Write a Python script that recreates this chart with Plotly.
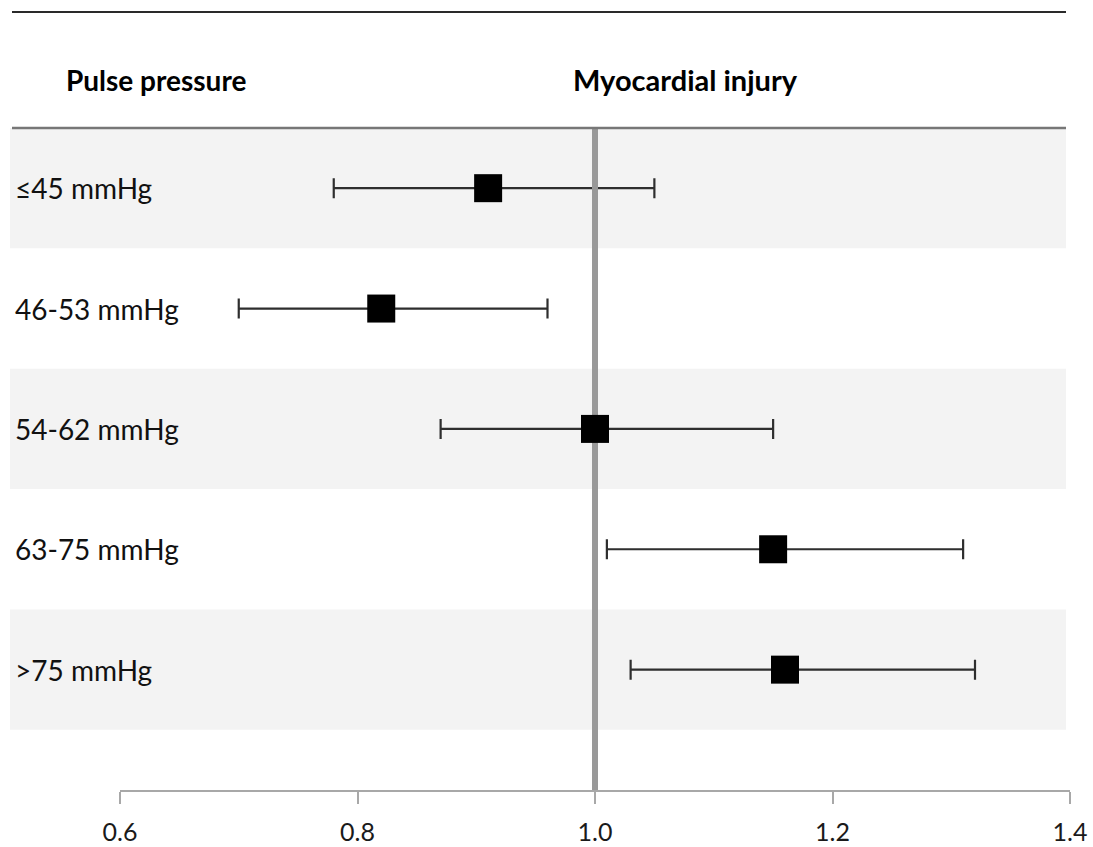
import plotly.graph_objects as go

categories = ["≤45 mmHg", "46-53 mmHg", "54-62 mmHg", "63-75 mmHg", ">75 mmHg"]
estimate = [0.91, 0.82, 1.00, 1.15, 1.16]
ci_low = [0.78, 0.70, 0.87, 1.01, 1.03]
ci_high = [1.05, 0.96, 1.15, 1.31, 1.32]
tick_vals = [0.6, 0.8, 1.0, 1.2, 1.4]
tick_text = ["0.6", "0.8", "1.0", "1.2", "1.4"]
ref_value = 1.0
header_left = "Pulse pressure"
header_right = "Myocardial injury"

W, H = 1093, 847
L, R, T, B = 120, 1070, 128, 790
PW, PH = R - L, B - T

def px_x(px):
    return (px - L) / PW

def px_y(py):
    return (B - py) / PH

rows = list(range(len(categories)))
y_range = [5.0, -0.5]

fig = go.Figure()

# error bars (drawn beneath the reference line)
fig.add_trace(go.Scatter(
    x=estimate, y=rows, mode="markers",
    marker=dict(size=1, color="rgba(0,0,0,0)"),
    error_x=dict(type="data", symmetric=False,
                 array=[h - e for h, e in zip(ci_high, estimate)],
                 arrayminus=[e - l for e, l in zip(estimate, ci_low)],
                 color="#2e2e2e", thickness=2.2, width=10),
    hoverinfo="skip", showlegend=False,
))

# reference line at 1.0
fig.add_trace(go.Scatter(
    x=[ref_value, ref_value], y=[y_range[1], y_range[0]], mode="lines",
    line=dict(color="#999999", width=6), hoverinfo="skip", showlegend=False,
))

# point estimates
fig.add_trace(go.Scatter(
    x=estimate, y=rows, mode="markers",
    marker=dict(symbol="square", size=28, color="black"),
    showlegend=False,
))

shapes = []
for i in rows:
    if i % 2 == 0:
        shapes.append(dict(type="rect", xref="paper", yref="y",
                           x0=px_x(10), x1=px_x(1066), y0=i - 0.5, y1=i + 0.5,
                           fillcolor="#f3f3f3", line=dict(width=0), layer="below"))
shapes.append(dict(type="line", xref="paper", yref="paper",
                   x0=px_x(12), x1=px_x(1066), y0=px_y(12), y1=px_y(12),
                   line=dict(color="#2a2a2a", width=2)))
shapes.append(dict(type="line", xref="paper", yref="paper",
                   x0=px_x(12), x1=px_x(1066), y0=px_y(128), y1=px_y(128),
                   line=dict(color="#777777", width=2.5)))
fig.update_layout(shapes=shapes)

annotations = [
    dict(text="<b>" + header_left + "</b>", xref="paper", yref="paper",
         x=px_x(64), y=px_y(80), xanchor="left", yanchor="middle", showarrow=False,
         font=dict(family="Lato", size=28, color="black")),
    dict(text="<b>" + header_right + "</b>", xref="paper", yref="paper",
         x=px_x(685), y=px_y(80), xanchor="center", yanchor="middle", showarrow=False,
         font=dict(family="Lato", size=29, color="black")),
]
for i, c in enumerate(categories):
    annotations.append(dict(text=c, xref="paper", yref="y", x=px_x(13), y=i,
                            xanchor="left", yanchor="middle", showarrow=False,
                            font=dict(family="Lato", size=28, color="#111111")))
fig.update_layout(annotations=annotations)

fig.update_layout(
    width=W, height=H, autosize=False,
    margin=dict(l=L, r=W - R, t=T, b=H - B, pad=0, autoexpand=False),
    plot_bgcolor="rgba(0,0,0,0)", paper_bgcolor="white",
    xaxis=dict(range=[0.6, 1.4], tickvals=tick_vals, ticktext=tick_text,
               automargin=False,
               showgrid=False, zeroline=False, showline=True,
               linecolor="#a8a8a8", linewidth=2, ticks="outside", ticklen=12,
               tickcolor="#a8a8a8", tickwidth=2, ticklabelstandoff=7,
               tickfont=dict(family="Lato", size=25, color="#1a1a1a")),
    yaxis=dict(range=y_range, automargin=False, showgrid=False, zeroline=False,
               showline=False, showticklabels=False, ticks=""),
)

fig.write_html(
    "out.html",
    post_script="document.body.style.margin='0';document.body.style.overflow='hidden';",
)
